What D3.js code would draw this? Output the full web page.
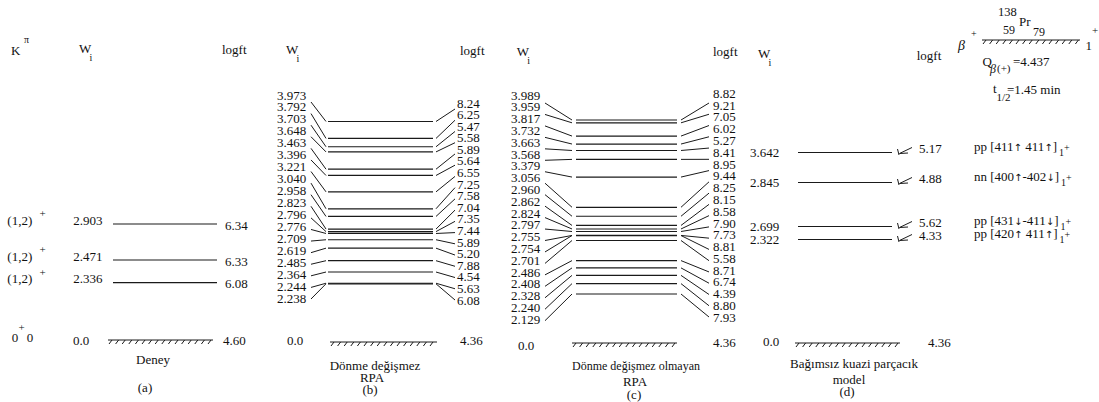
<!DOCTYPE html>
<html><head><meta charset="utf-8">
<script src="https://cdn.jsdelivr.net/npm/d3@7"></script>
<style>
body{margin:0;background:#fff}
svg{display:block}
text{font-family:"Liberation Serif","Times New Roman",serif;fill:#111}
</style>
</head><body>
<script>
// ---------------- DATA ----------------
// (a) Deney (experiment)
const expK = ["(1,2)", "(1,2)", "(1,2)"];
const expE = [2.903, 2.471, 2.336];
const expLogft = [6.34, 6.33, 6.08];
// (b) Dönme değişmez RPA
const rpaInvE = [3.973,3.792,3.703,3.648,3.463,3.396,3.221,3.040,2.958,2.823,2.796,2.776,2.709,2.619,2.485,2.364,2.244,2.238];
const rpaInvLogft = [8.24,6.25,5.47,5.58,5.89,5.64,6.55,7.25,7.58,7.04,7.35,7.44,5.89,5.20,7.88,4.54,5.63,6.08];
// (c) Dönme değişmez olmayan RPA
const rpaNonE = [3.989,3.959,3.817,3.732,3.663,3.568,3.379,3.056,2.960,2.862,2.824,2.797,2.755,2.754,2.701,2.486,2.408,2.328,2.240,2.129];
const rpaNonLogft = [8.82,9.21,7.05,6.02,5.27,8.41,8.95,9.44,8.25,8.15,8.58,7.90,7.73,8.81,5.58,8.71,6.74,4.39,8.80,7.93];
// (d) Bağımsız kuazi parçacık model
const qpE = [3.642, 2.845, 2.699, 2.322];
const qpLogft = [5.17, 4.88, 5.62, 4.33];
const qpConfig = ["pp [411↑ 411↑]", "nn [400↑-402↓]", "pp [431↓-411↓]", "pp [420↑ 411↑]"];
// ground state logft per panel
const groundLogft = [4.60, 4.36, 4.36, 4.36];
const panelTitles = [["Deney"], ["Dönme değişmez", "RPA"], ["Dönme değişmez olmayan", "RPA"], ["Bağımsız kuazi parçacık", "model"]];
const panelTags = ["(a)", "(b)", "(c)", "(d)"];
const parent = {A: "138", Z: "59", sym: "Pr", N: "79", Q: "=4.437", T: "=1.45 min", spin: "1"};

// ---------------- SETUP ----------------
const svg = d3.select("body").append("svg").attr("width", 1099).attr("height", 402);
const fmtE = d3.format(".3f"), fmtL = d3.format(".2f");
const STROKE = "#1a1a1a";

function txt(x, y, s, o = {}) {
  return svg.append("text").attr("x", x).attr("y", y).attr("dy", "0.35em")
    .attr("font-size", o.size || 13).attr("text-anchor", o.anchor || "start")
    .attr("font-style", o.italic ? "italic" : null).text(s);
}
function hatch(x1, x2, y) {
  svg.append("line").attr("x1", x1).attr("x2", x2).attr("y1", y).attr("y2", y)
    .attr("stroke", STROKE).attr("stroke-width", 1);
  const ticks = d3.range(x1 + 4, x2 + 0.5, 6.6);
  svg.append("g").selectAll("line").data(ticks).enter().append("line")
    .attr("x1", d => d).attr("y1", y).attr("x2", d => d - 3).attr("y2", y + 4)
    .attr("stroke", STROKE).attr("stroke-width", 1);
}
function header(xW, yW, xL, yL) {
  txt(xW, yW, "W");
  txt(xW + 10.5, yW + 9, "i", {size: 10});
  txt(xL, yL, "logft");
}

// energy scales (schematic panels use a piecewise display scale)
const yRPA = d3.scaleLinear().domain([2.129, 3.989]).range([294, 120]);
const yExp = d3.scaleLinear().domain([2.336, 2.471, 2.903]).range([282.7, 260, 224]);
const yQP = d3.scaleLinear().domain([2.322, 2.699, 2.845, 3.642]).range([239.5, 226.5, 182.5, 152.5]);

// ---------------- PANEL (a) ----------------
txt(11, 50, "K");
txt(24, 39, "π", {size: 10});
header(79, 48, 222, 49);
const ga = svg.append("g");
ga.selectAll("line").data(expE).enter().append("line")
  .attr("x1", 113).attr("x2", 217).attr("y1", d => yExp(d)).attr("y2", d => yExp(d))
  .attr("stroke", STROKE).attr("stroke-width", 1.2);
expE.forEach((e, i) => {
  const y = yExp(e);
  txt(7.3, y - 4, expK[i]);
  txt(39.5, y - 11, "+", {size: 11});
  txt(73.3, y - 4, fmtE(e));
  txt(225, y + 1, fmtL(expLogft[i]));
});
txt(11.7, 337, "0");
txt(18.5, 327, "+", {size: 11});
txt(26.7, 337, "0");
txt(73, 340, "0.0");
hatch(108, 213, 340);
txt(223, 340.7, fmtL(groundLogft[0]));
txt(153, 359, panelTitles[0][0], {anchor: "middle"});
txt(145, 387, panelTags[0], {anchor: "middle"});

// ---------------- RPA PANELS (b), (c) ----------------
function rpaPanel(E, L, c) {
  const n = E.length;
  const idx = d3.scaleLinear().domain([0, n - 1]);
  const labL = idx.copy().range(c.labL), ancL = idx.copy().range(c.ancL);
  const labR = idx.copy().range(c.labR), ancR = idx.copy().range(c.ancR);
  const g = svg.append("g");
  g.selectAll(".lv").data(E).enter().append("line")
    .attr("x1", c.x1).attr("x2", c.x2).attr("y1", d => yRPA(d)).attr("y2", d => yRPA(d))
    .attr("stroke", STROKE).attr("stroke-width", 1.2);
  g.selectAll(".cl").data(E).enter().append("line")
    .attr("x1", c.cl0).attr("y1", (d, i) => ancL(i)).attr("x2", c.cl1).attr("y2", d => yRPA(d))
    .attr("stroke", STROKE).attr("stroke-width", 1);
  g.selectAll(".cr").data(E).enter().append("line")
    .attr("x1", c.cr0).attr("y1", d => yRPA(d)).attr("x2", c.cr1).attr("y2", (d, i) => ancR(i))
    .attr("stroke", STROKE).attr("stroke-width", 1);
  E.forEach((e, i) => {
    txt(c.lx, labL(i), fmtE(e));
    txt(c.rx, labR(i), fmtL(L[i]));
  });
}
// (b)
header(286, 49, 460, 50);
rpaPanel(rpaInvE, rpaInvLogft, {
  x1: 328, x2: 433, cl0: 311, cl1: 326, cr0: 436, cr1: 455,
  lx: 277, rx: 457, labL: [95, 298], ancL: [102, 299], labR: [103, 300], ancR: [109, 300]
});
txt(287, 340, "0.0");
hatch(330, 437, 342);
txt(460, 340.7, fmtL(groundLogft[1]));
txt(375, 365, panelTitles[1][0], {anchor: "middle"});
txt(372, 377, panelTitles[1][1], {anchor: "middle"});
txt(370, 389, panelTags[1], {anchor: "middle"});

// (c)
header(516.7, 51.7, 713, 51.7);
rpaPanel(rpaNonE, rpaNonLogft, {
  x1: 576, x2: 677, cl0: 545, cl1: 572, cr0: 681, cr1: 709,
  lx: 511, rx: 713, labL: [95, 319.3], ancL: [103, 320.7], labR: [93.3, 317.3], ancR: [103, 317]
});
txt(518, 345, "0.0");
hatch(572, 677, 343);
txt(713, 342.7, fmtL(groundLogft[2]));
txt(636, 366, panelTitles[2][0], {anchor: "middle", size: 12});
txt(635, 381.5, panelTitles[2][1], {anchor: "middle"});
txt(634, 394, panelTags[2], {anchor: "middle"});

// ---------------- PANEL (d) ----------------
header(758, 53.3, 916.7, 55);
const gd = svg.append("g");
gd.selectAll("line").data(qpE).enter().append("line")
  .attr("x1", 798).attr("x2", 892).attr("y1", d => yQP(d)).attr("y2", d => yQP(d))
  .attr("stroke", STROKE).attr("stroke-width", 1.2);
gd.selectAll("path").data(qpE).enter().append("path")
  .attr("d", d => { const y = yQP(d); return `M897.5,${y - 3.5} L899,${y + 2.5} M912,${y - 5} L899.5,${y + 1} L908,${y + 0.5}`; })
  .attr("fill", "none").attr("stroke", STROKE).attr("stroke-width", 1);
qpE.forEach((e, i) => {
  const y = yQP(e);
  txt(750, y, fmtE(e));
  txt(919, y - 4, fmtL(qpLogft[i]));
  // configuration label with small arrows
  const t = svg.append("text").attr("x", 974).attr("y", y - 6).attr("dy", "0.35em").attr("font-size", 13);
  qpConfig[i].split(/([↑↓])/).forEach(part => {
    if (!part) return;
    if (part === "↑" || part === "↓") t.append("tspan").attr("font-size", 10).attr("font-family", "DejaVu Sans").text(part);
    else t.append("tspan").text(part);
  });
  const bb = t.node().getBBox();
  txt(bb.x + bb.width + 2, y - 0.5, "1", {size: 10});
  txt(bb.x + bb.width + 7, y - 5, "+", {size: 10});
});
txt(763, 341.7, "0.0");
hatch(795, 900, 343);
txt(928, 342.7, fmtL(groundLogft[3]));
txt(854, 363, panelTitles[3][0], {anchor: "middle"});
txt(849, 379.3, panelTitles[3][1], {anchor: "middle"});
txt(847, 391.7, panelTags[3], {anchor: "middle"});

// ---------------- PARENT NUCLEUS ----------------
txt(958, 45, "β", {size: 14, italic: true});
txt(971, 33, "+", {size: 10});
hatch(982, 1080, 40);
txt(1085.5, 45, parent.spin);
txt(1092, 30, "+", {size: 11});
txt(998, 11.7, parent.A, {size: 12.5});
txt(1003, 30, parent.Z, {size: 12});
txt(1019, 21.7, parent.sym);
txt(1033, 31.7, parent.N, {size: 12});
txt(982.5, 61.7, "Q");
txt(990, 68.3, "β", {size: 12, italic: true});
txt(997, 68.3, "(+)", {size: 11});
txt(1013, 61.7, parent.Q);
txt(993, 88.3, "t");
txt(996.5, 96.7, "1/2", {size: 11});
txt(1007, 89.3, parent.T);
</script>
</body></html>
